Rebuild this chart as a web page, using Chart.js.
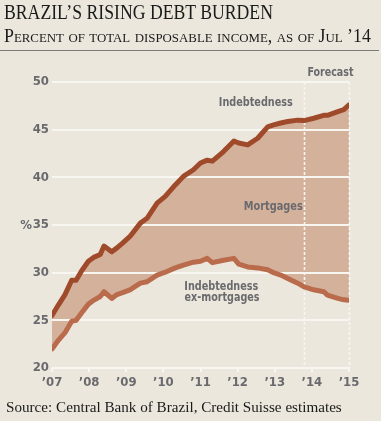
<!DOCTYPE html>
<html>
<head>
<meta charset="utf-8">
<script src="https://cdn.jsdelivr.net/npm/chart.js@4/dist/chart.umd.min.js"></script>
<style>
  html, body { margin: 0; padding: 0; background: #ece7dd; }
  #wrap { position: relative; width: 381px; height: 421px; overflow: hidden; background: #ece7dd; }
  #c { position: absolute; left: 0; top: 0; }
  .t { position: absolute; white-space: nowrap; font-family: 'Liberation Serif', 'Times New Roman', serif; color: #1a1a1a; transform-origin: 0 0; }
  #title { left: 4px; top: 1px; font-size: 20px; line-height: 22px; transform: scaleX(0.885); }
  #sub { left: 4px; top: 25px; font-size: 18px; line-height: 22px; font-variant: small-caps; transform: scaleX(0.99); }
  #rule { position: absolute; left: 0; top: 50px; width: 379px; height: 1px; background: #7a7a7a; }
  #src { left: 6px; top: 398px; font-size: 15px; line-height: 18px; transform: scaleX(1.01); }
</style>
</head>
<body>
<div id="wrap">
  <canvas id="c" width="381" height="421"></canvas>
  <div class="t" id="title">BRAZIL’S RISING DEBT BURDEN</div>
  <div class="t" id="sub">Percent of total disposable income, as of Jul ’14</div>
  <div id="rule"></div>
  <div class="t" id="src">Source: Central Bank of Brazil, Credit Suisse estimates</div>
</div>
<script>
// ---- data ----
const years = [2007.0, 2007.17, 2007.35, 2007.53, 2007.65, 2007.8, 2007.98, 2008.12, 2008.3, 2008.4,
  2008.61, 2008.75, 2008.9, 2009.1, 2009.38, 2009.56, 2009.83, 2010.05, 2010.32, 2010.54,
  2010.81, 2011.0, 2011.18, 2011.32, 2011.62, 2011.9, 2012.03, 2012.27, 2012.54, 2012.81,
  2012.97, 2013.16, 2013.35, 2013.62, 2013.79, 2014.05, 2014.32, 2014.42, 2014.7, 2014.86, 2015.0];
const indebtedness = [25.5, 26.6, 27.7, 29.2, 29.2, 30.2, 31.2, 31.6, 31.9, 32.8,
  32.2, 32.6, 33.1, 33.8, 35.2, 35.7, 37.3, 38.0, 39.2, 40.1,
  40.8, 41.5, 41.8, 41.7, 42.7, 43.8, 43.6, 43.4, 44.1, 45.3,
  45.5, 45.7, 45.85, 46.0, 45.95, 46.2, 46.5, 46.5, 46.9, 47.1, 47.6];
const exMortgages = [22.0, 22.9, 23.7, 24.9, 25.0, 25.8, 26.7, 27.1, 27.5, 28.0,
  27.3, 27.7, 27.9, 28.2, 28.9, 29.05, 29.75, 30.05, 30.5, 30.8,
  31.1, 31.2, 31.5, 31.05, 31.3, 31.5, 30.9, 30.6, 30.5, 30.3,
  30.0, 29.75, 29.4, 28.9, 28.5, 28.2, 28.0, 27.65, 27.3, 27.15, 27.1];
const xTickYears = [2007, 2008, 2009, 2010, 2011, 2012, 2013, 2014, 2015];
const xTickLabels = ["’07", "’08", "’09", "’10", "’11", "’12", "’13", "’14", "’15"];
const yTickValues = [20, 25, 30, 35, 40, 45, 50];
const forecastStart = 2013.8;
const forecastEnd = 2015;
const seriesNames = ["Indebtedness", "Indebtedness ex-mortgages"];
const annotations = [
  { text: "Forecast", x: 2014.5, y: 51.0, w: 46 },
  { text: "Indebtedness", x: 2012.49, y: 47.8, w: 74 },
  { text: "Mortgages", x: 2012.96, y: 36.9, w: 59 },
  { text: "Indebtedness", x: 2011.56, y: 28.55, w: 74 },
  { text: "ex-mortgages", x: 2011.58, y: 27.4, w: 75 }
];
const labelFont = "'DejaVu Sans Condensed', 'DejaVu Sans', sans-serif";
const grey = '#6a6a6e';

const toPts = arr => arr.map((v, i) => ({ x: years[i], y: v }));

const overlay = {
  id: 'overlay',
  beforeDatasetsDraw(chart) {
    const { ctx, scales } = chart;
    ctx.save();
    ctx.strokeStyle = '#f8f6f1';
    ctx.lineWidth = 1.6;
    ctx.setLineDash([3, 2]);
    [forecastStart, forecastEnd].forEach(v => {
      const px = Math.round(scales.x.getPixelForValue(v)) + 0.5;
      ctx.beginPath();
      ctx.moveTo(px, scales.y.getPixelForValue(50));
      ctx.lineTo(px, scales.y.getPixelForValue(20));
      ctx.stroke();
    });
    ctx.restore();
  },
  afterDatasetsDraw(chart) {
    const { ctx, scales } = chart;
    ctx.save();
    ctx.fillStyle = grey;
    ctx.font = "bold 12.5px " + labelFont;
    ctx.textAlign = 'center';
    ctx.textBaseline = 'middle';
    annotations.forEach(a => {
      ctx.fillText(a.text, scales.x.getPixelForValue(a.x), scales.y.getPixelForValue(a.y), a.w);
    });
    ctx.font = "bold 13px " + labelFont;
    ctx.fillText('%', 26, scales.y.getPixelForValue(35) + 1);
    ctx.restore();
  }
};

new Chart(document.getElementById('c'), {
  type: 'line',
  data: {
    datasets: [
      {
        label: seriesNames[0],
        data: toPts(indebtedness),
        borderColor: '#9f4b2b',
        borderWidth: 5,
        backgroundColor: '#d4b19b',
        fill: 1,
        pointRadius: 0,
        tension: 0,
        borderCapStyle: 'round',
        borderJoinStyle: 'round'
      },
      {
        label: seriesNames[1],
        data: toPts(exMortgages),
        borderColor: '#b96b4c',
        borderWidth: 5,
        fill: false,
        pointRadius: 0,
        tension: 0,
        borderCapStyle: 'round',
        borderJoinStyle: 'round'
      }
    ]
  },
  options: {
    responsive: false,
    animation: false,
    events: [],
    layout: { padding: { top: 82, right: 32, bottom: 0, left: 0 } },
    plugins: {
      legend: { display: false },
      tooltip: { enabled: false },
      filler: { drawTime: 'beforeDraw' }
    },
    scales: {
      x: {
        type: 'linear',
        min: 2007,
        max: 2015,
        afterFit(s) { s.height = 53; },
        afterBuildTicks(s) { s.ticks = xTickYears.map(v => ({ value: v })); },
        ticks: {
          padding: 3,
          maxRotation: 0,
          autoSkip: false,
          color: grey,
          font: { family: labelFont, size: 13, weight: 'bold' },
          callback: (v) => xTickLabels[xTickYears.indexOf(v)]
        },
        grid: { drawOnChartArea: false, drawTicks: true, tickLength: 4, color: '#f8f6f1', lineWidth: 2 },
        border: { display: false }
      },
      y: {
        min: 20,
        max: 50,
        afterFit(s) { s.width = 52; },
        afterBuildTicks(s) { s.ticks = yTickValues.map(v => ({ value: v })); },
        ticks: {
          padding: 3,
          color: grey,
          font: { family: labelFont, size: 13, weight: 'bold' }
        },
        grid: { drawTicks: false, color: '#f8f6f1', lineWidth: 2 },
        border: { display: false }
      }
    }
  },
  plugins: [overlay]
});
</script>
</body>
</html>
